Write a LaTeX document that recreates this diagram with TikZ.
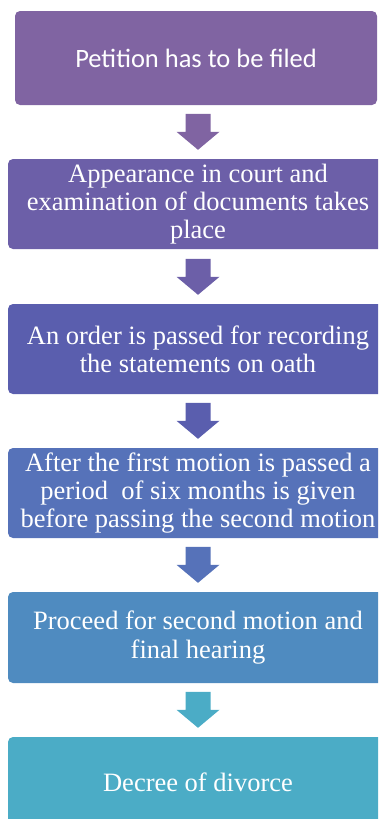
\documentclass[tikz,border=0pt]{standalone}
\usepackage{fontspec}
\setmainfont{Liberation Serif}
\newfontfamily\boxsans{Carlito}
\definecolor{cA}{HTML}{8064A2}
\definecolor{cB}{HTML}{6C5FA8}
\definecolor{cC}{HTML}{5A5EAE}
\definecolor{cD}{HTML}{5672B9}
\definecolor{cE}{HTML}{4F8BC0}
\definecolor{cF}{HTML}{4BACC6}
\tikzset{
  stepbox/.style={draw=none, rounded corners=5pt, text=white, align=center,
    inner sep=0pt, font=\rmfamily\fontsize{26.5}{28.3}\selectfont}
}
\newcommand{\blockarrow}[2]{%
  \fill[#2] (#1) ++(0,9) -- ++(21.5,18) -- ++(-9,0) -- ++(0,18) -- ++(-25,0)
    -- ++(0,-18) -- ++(-9,0) -- cycle;}
\begin{document}
\begin{tikzpicture}[x=1pt,y=1pt]
\useasboundingbox (0,0) rectangle (378,-819);
\clip (0,0) rectangle (378,-819);
\node[stepbox, fill=cA, minimum width=362pt, minimum height=94pt,
  font=\boxsans\fontsize{26.5}{30}\selectfont] (b1) at (196,-58) {Petition has to be filed};
\node[stepbox, fill=cB, minimum width=380pt, minimum height=90pt] (b2) at (198,-204)
  {Appearance in court and\\examination of documents takes\\place};
\node[stepbox, fill=cC, minimum width=380pt, minimum height=90pt] (b3) at (198,-349)
  {An order is passed for recording\\the statements on oath};
\node[stepbox, fill=cD, minimum width=380pt, minimum height=90pt] (b4) at (198,-493)
  {After the first motion is passed a\\period\ \ of six months is given\\before passing the second motion};
\node[stepbox, fill=cE, minimum width=380pt, minimum height=91pt] (b5) at (198,-637.5)
  {Proceed for second motion and\\final hearing};
\node[stepbox, fill=cF, minimum width=380pt, minimum height=90pt] (b6) at (198,-782)
  {Decree of divorce};
\blockarrow{b2.north}{cA}
\blockarrow{b3.north}{cB}
\blockarrow{b4.north}{cC}
\blockarrow{b5.north}{cD}
\blockarrow{b6.north}{cF}
\end{tikzpicture}
\end{document}
